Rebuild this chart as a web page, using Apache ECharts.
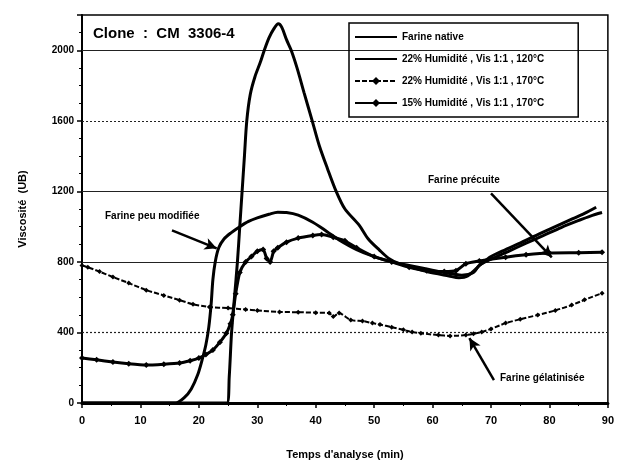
<!DOCTYPE html>
<html>
<head>
<meta charset="utf-8">
<script src="https://cdn.jsdelivr.net/npm/echarts@6/dist/echarts.min.js"></script>
<style>
  html, body { margin: 0; padding: 0; background: #fff; }
  #chart { width: 617px; height: 470px; }
</style>
</head>
<body>
<div id="chart"></div>
<script>
// Viscosity profiles (Brabender units) of native and extruded flours, clone CM 3306-4
const FONT = "'Liberation Sans Narrow', 'Liberation Sans', Arial, sans-serif";

const xTicks = [0, 10, 20, 30, 40, 50, 60, 70, 80, 90];
const yTicks = [0, 400, 800, 1200, 1600, 2000];

const nativeTime = [0, 10, 20, 24.8, 25.2, 25.6, 26.1, 26.6, 27.0, 27.4, 27.8, 28.2, 28.8, 29.6, 30.5, 31.2, 32.0, 32.8, 33.6, 34.2, 35.0, 35.8, 36.8, 38.0, 39.4, 40.6, 42.0, 43.5, 45.0, 47.4, 49.0, 50.9, 52.5, 54.3, 56.5, 59.0, 62.8, 64.5, 66.0, 68.4, 70.0, 72.5, 75.3, 78.0, 81.0, 84.0, 86.0, 88.0];
const nativeVisc = [0, 0, 0, 0, 150, 400, 600, 800, 1000, 1200, 1400, 1600, 1750, 1850, 1930, 2000, 2070, 2120, 2150, 2130, 2060, 2000, 1900, 1760, 1600, 1460, 1330, 1200, 1100, 1010, 930, 867, 820, 790, 770, 745, 720, 710, 720, 790, 830, 870, 912, 955, 1000, 1045, 1075, 1110];

const h22t120Time = [0, 10, 16, 17.5, 18.7, 19.8, 20.6, 21.2, 21.7, 22.1, 22.4, 22.8, 23.4, 24.3, 25.5, 27.0, 28.5, 30.0, 32.0, 33.5, 35.0, 37.0, 39.5, 42.0, 44.0, 47.0, 50.0, 53.0, 56.0, 59.0, 62.0, 65.0, 67.0, 68.0, 70.0, 73.0, 76.0, 79.0, 82.0, 85.0, 87.0, 89.0];
const h22t120Visc = [0, 0, 0, 30, 80, 160, 250, 330, 430, 560, 700, 800, 880, 930, 965, 1000, 1030, 1050, 1070, 1082, 1080, 1065, 1025, 970, 925, 870, 830, 800, 780, 760, 740, 725, 740, 782, 815, 860, 906, 950, 995, 1035, 1060, 1080];

const h22t170Time = [0, 1, 3, 5.3, 8, 11, 14, 16.7, 19, 21.8, 25, 28, 30, 33.8, 37, 40, 42.3, 43, 44, 46, 48, 49.7, 51, 53, 55, 56.5, 58, 61, 63, 65.7, 67, 68.4, 70, 72.5, 75, 78, 81, 83.8, 86, 89];
const h22t170Visc = [780, 770, 745, 714, 680, 640, 610, 583, 560, 544, 538, 530, 525, 516, 515, 512, 510, 490, 510, 470, 465, 453, 445, 430, 415, 402, 395, 385, 380, 385, 392, 402, 420, 453, 475, 499, 525, 555, 585, 623];

const h15t170Time = [0, 2.5, 5.3, 8, 11, 14, 16.7, 18.5, 20, 21.2, 22.4, 23.6, 24.7, 25.4, 25.8, 26.3, 27, 28, 29, 30, 31, 31.6, 32.2, 32.8, 33.5, 35, 37, 39.5, 41, 43, 45, 47, 50, 53, 56, 59, 62, 64, 65.7, 68, 72.5, 76, 80, 85, 89];
const h15t170Visc = [255, 245, 232, 222, 215, 220, 227, 240, 255, 275, 300, 345, 396, 450, 500, 620, 740, 800, 830, 860, 870, 820, 800, 860, 880, 912, 935, 950, 955, 940, 920, 880, 830, 800, 770, 750, 745, 750, 790, 805, 827, 840, 850, 852, 855];

const seriesNames = [
  'Farine native',
  '22% Humidité , Vis 1:1 , 120°C',
  '22% Humidité , Vis 1:1 , 170°C',
  '15% Humidité , Vis 1:1 , 170°C'
];

// Annotation arrows in data units: [startTime, startVisc, endTime, endVisc]
const arrowPeu = [15.4, 979, 23.05, 877];
const arrowPrecuite = [70.0, 1188, 80.4, 826];
const arrowGelat = [70.5, 130, 66.3, 368];

const pairs = (xs, ys) => xs.map((x, i) => [x, ys[i]]);

function arrow(a) {
  return [[{ coord: [a[0], a[1]] }, { coord: [a[2], a[3]] }]];
}

const arrowStyle = {
  silent: true,
  symbol: ['none', 'arrow'],
  symbolSize: [9, 12],
  lineStyle: { color: '#000', width: 2.5, type: 'solid' },
  label: { show: false },
  animation: false
};

const chart = echarts.init(document.getElementById('chart'), null, { renderer: 'canvas' });

const option = {
  animation: false,
  backgroundColor: '#fff',
  grid: {
    left: 82, right: 8, top: 15, bottom: 67,
    show: true, borderColor: '#000', borderWidth: 1.5, backgroundColor: 'transparent'
  },
  legend: {
    left: 349, top: 23,
    orient: 'vertical',
    data: [
      { name: seriesNames[0], itemStyle: { opacity: 0 } },
      { name: seriesNames[1], itemStyle: { opacity: 0 } },
      { name: seriesNames[2] },
      { name: seriesNames[3] }
    ],
    itemWidth: 42, itemHeight: 10, itemGap: 12,
    padding: [9, 34, 9, 5],
    borderColor: '#000', borderWidth: 1.5,
    backgroundColor: 'transparent',
    textStyle: { fontFamily: FONT, fontWeight: 'bold', fontSize: 10, color: '#000' }
  },
  xAxis: {
    type: 'value', min: 0, max: 90, interval: 10,
    name: "Temps d'analyse (min)", nameLocation: 'middle', nameGap: 46,
    nameTextStyle: { fontFamily: FONT, fontWeight: 'bold', fontSize: 11, color: '#000' },
    axisLine: { show: true, onZero: false, lineStyle: { color: '#000', width: 3 } },
    axisTick: { show: true, length: 5, lineStyle: { color: '#000', width: 1.5 } },
    minorTick: { show: true, splitNumber: 2, length: 3, lineStyle: { color: '#000' } },
    axisLabel: {
      fontFamily: FONT, fontWeight: 'bold', fontSize: 11, color: '#000', margin: 12,
      formatter: v => (xTicks.indexOf(v) >= 0 ? String(v) : '')
    },
    splitLine: { show: false }
  },
  yAxis: {
    type: 'value', min: 0, max: 2200, interval: 400,
    name: 'Viscosité  (UB)', nameLocation: 'middle', nameGap: 54,
    nameTextStyle: { fontFamily: FONT, fontWeight: 'bold', fontSize: 11, color: '#000' },
    axisLine: { show: true, onZero: false, lineStyle: { color: '#000', width: 2 } },
    axisTick: { show: true, inside: false, length: 5, lineStyle: { color: '#000', width: 1.5 } },
    minorTick: { show: true, splitNumber: 4, length: 3, lineStyle: { color: '#000' } },
    axisLabel: {
      fontFamily: FONT, fontWeight: 'bold', fontSize: 10, color: '#000', margin: 8,
      formatter: v => (yTicks.indexOf(v) >= 0 ? String(v) : '')
    },
    splitLine: { show: false }
  },
  series: [
    {
      name: seriesNames[0], type: 'line', data: pairs(nativeTime, nativeVisc),
      showSymbol: false, symbol: 'none', smooth: 0.3, z: 5,
      lineStyle: { color: '#000', width: 3 }, itemStyle: { color: '#000' },
      markLine: {
        silent: true, symbol: 'none', animation: false, z: 1,
        label: { show: false },
        data: [
          { yAxis: 2000, lineStyle: { color: '#222', width: 1.2, type: 'solid' } },
          { yAxis: 1600, lineStyle: { color: '#222', width: 1.2, type: [2, 2] } },
          { yAxis: 1200, lineStyle: { color: '#222', width: 1.2, type: 'solid' } },
          { yAxis: 800, lineStyle: { color: '#222', width: 1.2, type: 'solid' } },
          { yAxis: 400, lineStyle: { color: '#222', width: 1.2, type: [2, 2] } }
        ]
      }
    },
    {
      name: seriesNames[1], type: 'line', data: pairs(h22t120Time, h22t120Visc),
      showSymbol: false, symbol: 'none', smooth: 0.3, z: 5,
      lineStyle: { color: '#000', width: 3 }, itemStyle: { color: '#000' },
      markLine: Object.assign({}, arrowStyle, { data: arrow(arrowPeu) })
    },
    {
      name: seriesNames[2], type: 'line', data: pairs(h22t170Time, h22t170Visc),
      symbol: 'diamond', symbolSize: 5, showSymbol: true, smooth: 0.2, z: 4,
      lineStyle: { color: '#000', width: 2, type: [5, 2] }, itemStyle: { color: '#000' },
      markLine: Object.assign({}, arrowStyle, { data: arrow(arrowGelat) })
    },
    {
      name: seriesNames[3], type: 'line', data: pairs(h15t170Time, h15t170Visc),
      symbol: 'diamond', symbolSize: 6, showSymbol: true, smooth: 0.2, z: 4,
      lineStyle: { color: '#000', width: 3 }, itemStyle: { color: '#000' },
      markLine: Object.assign({}, arrowStyle, { data: arrow(arrowPrecuite) })
    }
  ],
  graphic: [
    { type: 'text', left: 93, top: 26, style: { text: 'Clone  :  CM  3306-4', font: 'bold 15px ' + FONT, fill: '#000' } },
    { type: 'text', left: 105, top: 211, style: { text: 'Farine peu modifiée', font: 'bold 10px ' + FONT, fill: '#000' } },
    { type: 'text', left: 428, top: 175, style: { text: 'Farine précuite', font: 'bold 10px ' + FONT, fill: '#000' } },
    { type: 'text', left: 500, top: 373, style: { text: 'Farine gélatinisée', font: 'bold 10px ' + FONT, fill: '#000' } }
  ]
};

chart.setOption(option);
</script>
</body>
</html>
